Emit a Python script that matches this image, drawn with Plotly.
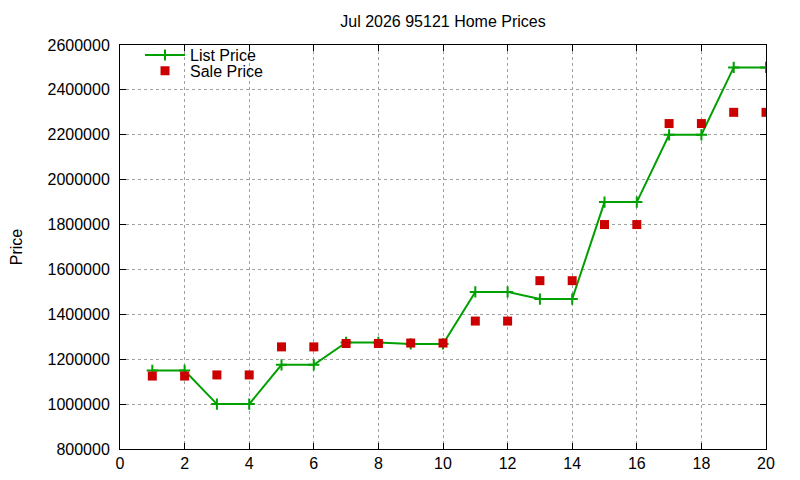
import plotly.graph_objects as go

# month index on the x axis
months = list(range(1, 21))

# median list and sale prices
list_price = [1150000, 1150000, 1000000, 1000000, 1175000, 1175000,
              1275000, 1275000, 1268000, 1268000, 1500000, 1500000,
              1468000, 1468000, 1900000, 1900000, 2200000, 2200000,
              2500000, 2500000]
sale_price = [1125000, 1125000, 1130000, 1130000, 1255000, 1255000,
              1270000, 1270000, 1272000, 1272000, 1370000, 1370000,
              1550000, 1550000, 1800000, 1800000, 2250000, 2250000,
              2300000, 2300000]

x_ticks = list(range(0, 21, 2))
y_ticks = list(range(800000, 2600001, 200000))

fig = go.Figure()

fig.add_trace(go.Scatter(
    x=months, y=list_price, name='List Price',
    mode='lines+markers',
    line=dict(color='#00a000', width=2),
    marker=dict(symbol='cross-thin', size=8,
                line=dict(color='#00a000', width=2)),
    legend='legend',
))

fig.add_trace(go.Scatter(
    x=months, y=sale_price, name='Sale Price',
    mode='markers',
    marker=dict(symbol='square', size=9, color='#cc0000'),
    legend='legend2',
))

axis_style = dict(
    showline=True, linecolor='black', linewidth=1, mirror='ticks',
    ticks='inside', ticklen=6, tickcolor='black',
    showgrid=True, gridcolor='#a0a0a0', griddash='dot', gridwidth=1,
    zeroline=False, tickfont=dict(size=16),
)

fig.update_xaxes(range=[0, 20], tickvals=x_ticks, **axis_style)
fig.update_yaxes(range=[800000, 2600000], tickvals=y_ticks,
                 tickformat='d', ticklabelstandoff=6,
                 title=dict(text='Price', standoff=33, font=dict(size=16)),
                 **axis_style)

# gnuplot-like key: one row per legend, stacked tightly
key_style = dict(xanchor='left', yanchor='middle', bgcolor='rgba(0,0,0,0)',
                 itemwidth=40, font=dict(size=16))

# the page puts the plot 8px in from the top-left corner
fig.update_layout(
    width=792, height=472,
    margin=dict(l=112, r=34, t=37, b=31, autoexpand=False),
    paper_bgcolor='white', plot_bgcolor='white',
    font=dict(family='Liberation Sans, Arial, sans-serif', size=16,
              color='black'),
    title=dict(text='Jul 2026 95121 Home Prices', x=(120 + 766) / 2 / 792 - 8 / 792,
               xanchor='center', xref='container',
               y=1 - 13 / 472, yanchor='middle', font=dict(size=16)),
    showlegend=True,
    legend=dict(x=0.031, y=0.975, **key_style),
    legend2=dict(x=0.031, y=0.936, **key_style),
)

fig.write_html("out.html")
